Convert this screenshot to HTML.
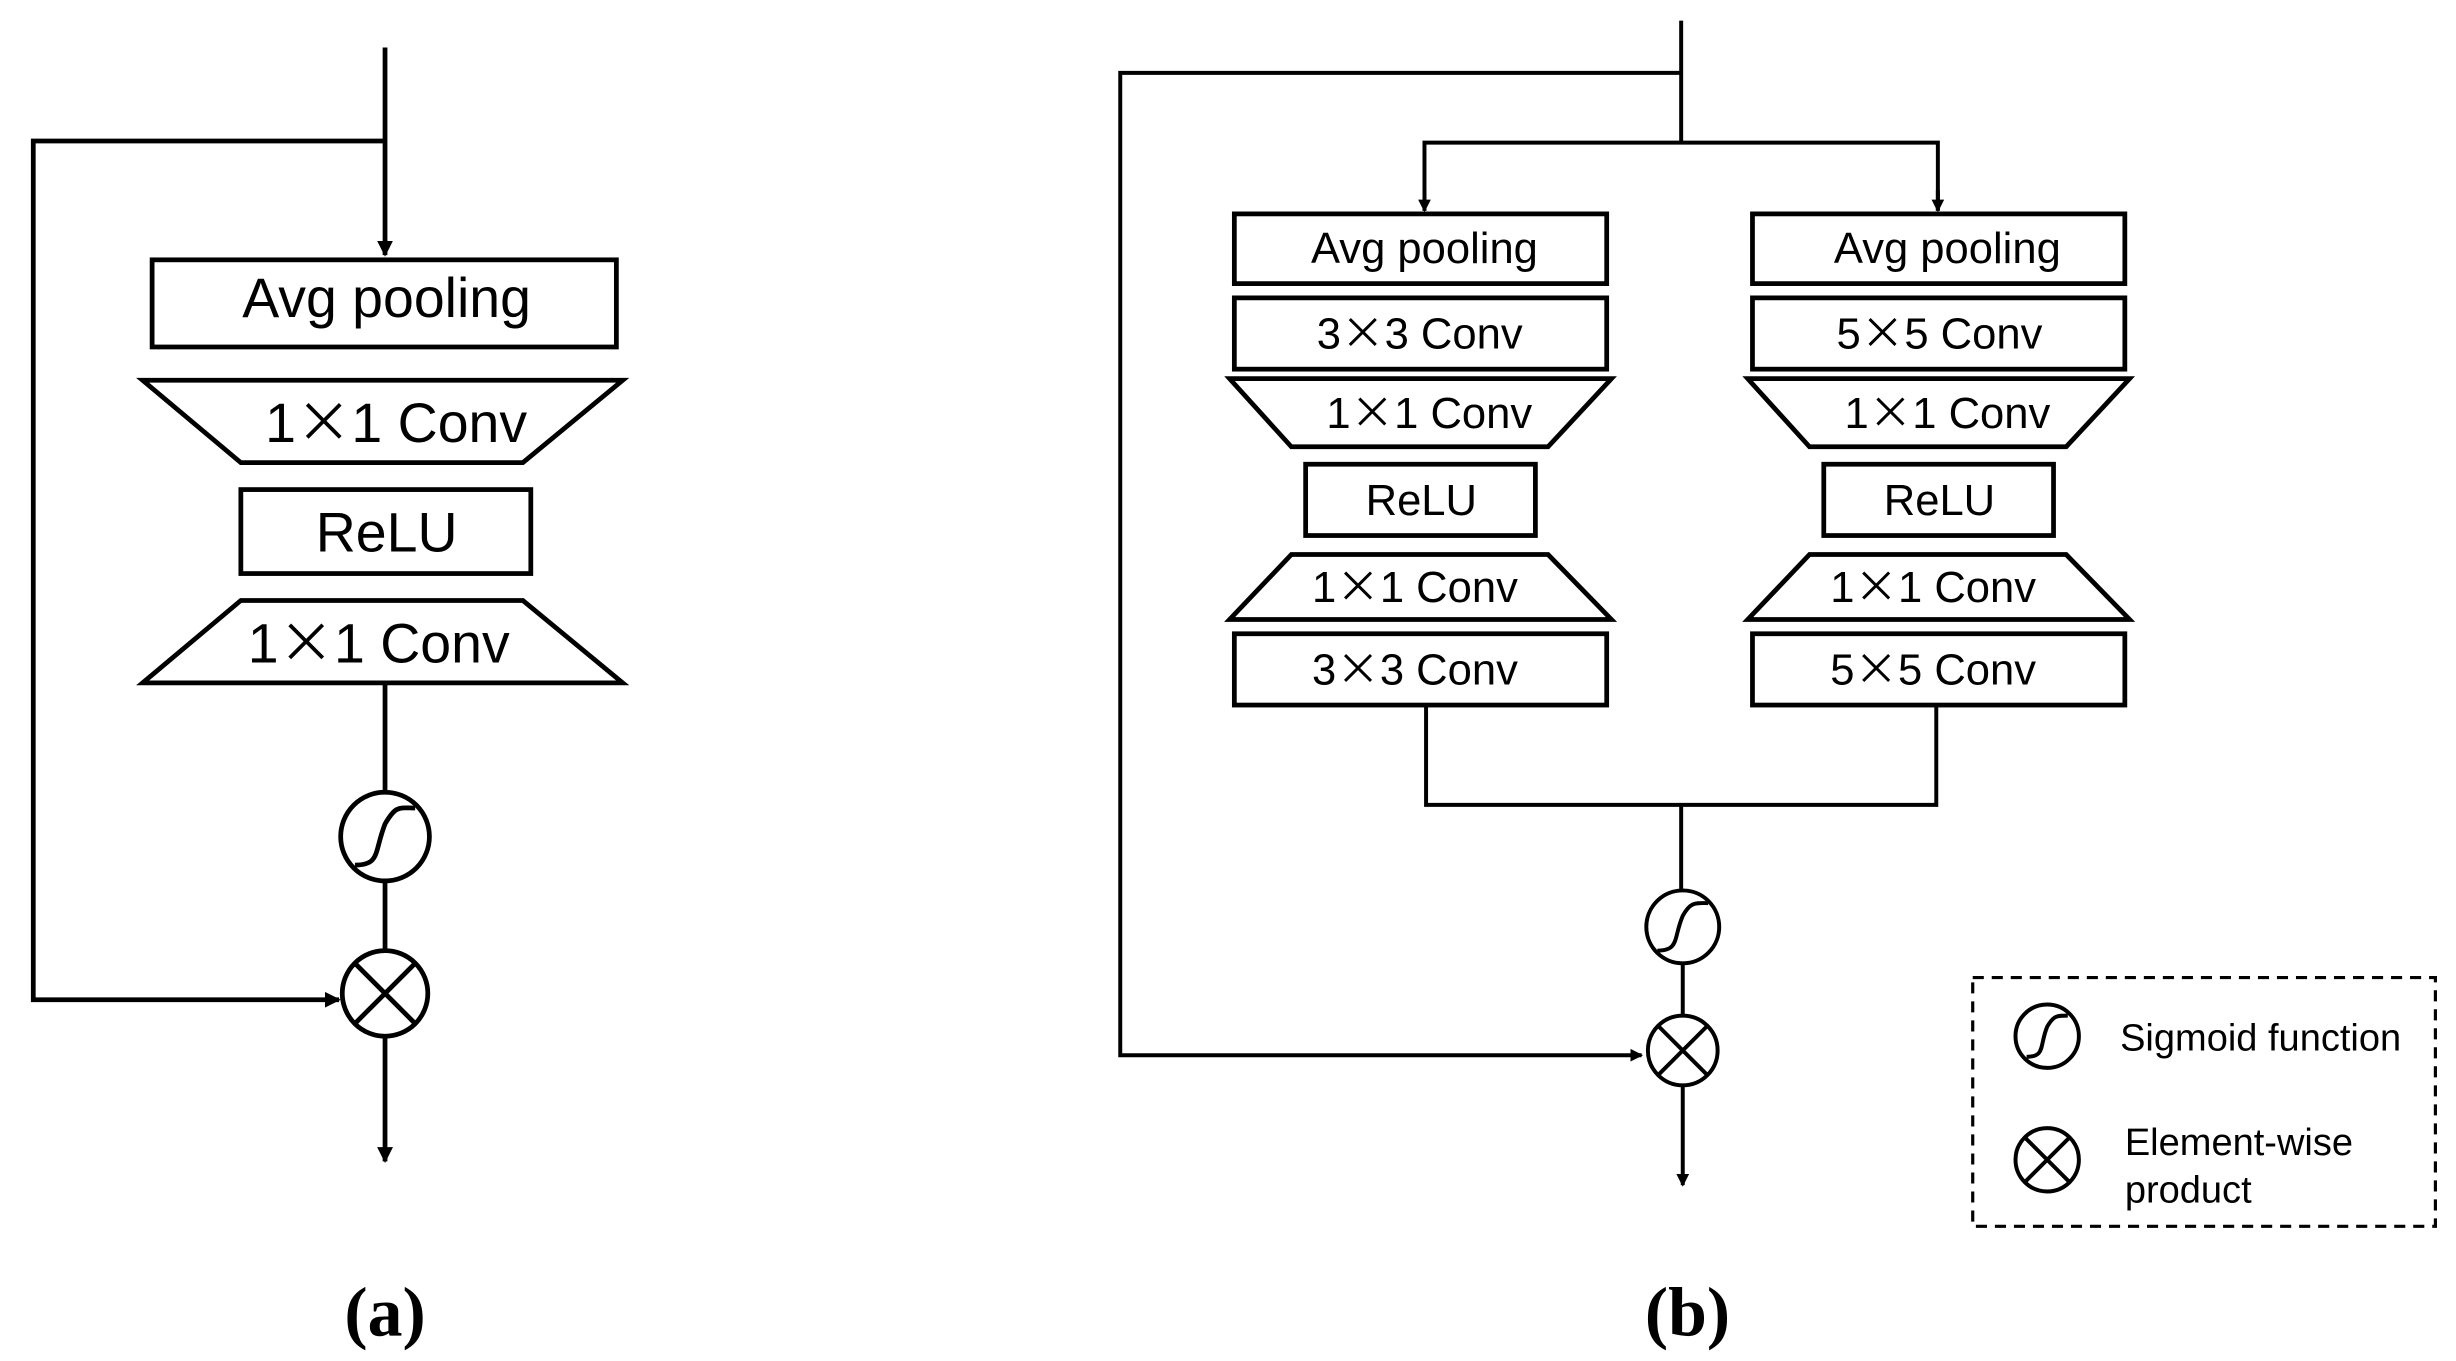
<!DOCTYPE html>
<html><head><meta charset="utf-8"><style>
html,body{margin:0;padding:0;background:#fff;}
svg{display:block;}
text{font-family:"Liberation Sans",sans-serif;fill:#000;}
.x{font-family:"Noto Sans CJK SC",sans-serif;}
</style></head><body>
<svg width="2456" height="1361" viewBox="0 0 1550 859" preserveAspectRatio="none" xmlns="http://www.w3.org/2000/svg">
<defs>
<marker id="ah" markerWidth="8" markerHeight="8" refX="7" refY="4" orient="auto" markerUnits="userSpaceOnUse">
<path d="M0,0 L8,4 L0,8 z" fill="#000"/></marker>
<marker id="ah2" markerWidth="10" markerHeight="10" refX="9" refY="5" orient="auto" markerUnits="userSpaceOnUse">
<path d="M0,0 L10,5 L0,10 z" fill="#000"/></marker>
</defs>
<rect width="1550" height="859" fill="#fff"/>
<!-- Panel (a) -->
<g stroke="#000" stroke-width="3" fill="none">
<line x1="243" y1="30" x2="243" y2="161" marker-end="url(#ah2)"/>
<polyline points="243,89 21,89 21,631 214,631" marker-end="url(#ah2)"/>
<rect x="96" y="164" width="293" height="55" fill="#fff"/>
<polygon points="90,240 393,240 330,292 152,292" fill="#fff"/>
<rect x="152" y="309" width="183" height="53" fill="#fff"/>
<polygon points="152,379 330,379 393,431 90,431" fill="#fff"/>
<line x1="243" y1="431" x2="243" y2="500"/>
<circle cx="243" cy="528" r="28"/>
<path d="M224,546 C240,546 236,538 243,520 C250,508 252,510 262,510"/>
<line x1="243" y1="556" x2="243" y2="600"/>
<circle cx="243" cy="627" r="27"/>
<line x1="224" y1="608" x2="262" y2="646"/>
<line x1="262" y1="608" x2="224" y2="646"/>
<line x1="243" y1="654" x2="243" y2="733" marker-end="url(#ah2)"/>
</g>
<g font-size="35" text-anchor="middle">
<text x="244" y="200">Avg pooling</text>
<text x="250" y="279">1<tspan class="x">×</tspan>1 Conv</text>
<text x="244" y="348">ReLU</text>
<text x="239" y="418">1<tspan class="x">×</tspan>1 Conv</text>
</g>
<text x="243" y="843" font-size="44" font-weight="bold" text-anchor="middle" style="font-family:'Liberation Serif',serif">(a)</text>

<!-- Panel (b) -->
<g stroke="#000" stroke-width="2.5" fill="none">
<line x1="1061" y1="13" x2="1061" y2="90"/>
<polyline points="1061,46 707,46 707,666 1036,666" marker-end="url(#ah)"/>
<polyline points="899,133 899,90 1223,90 1223,133"/>
<line x1="899" y1="120" x2="899" y2="133" marker-end="url(#ah)"/>
<line x1="1223" y1="120" x2="1223" y2="133" marker-end="url(#ah)"/>
<g stroke-width="3">
<rect x="779" y="135" width="235" height="44" fill="#fff"/>
<rect x="779" y="188" width="235" height="45" fill="#fff"/>
<polygon points="776,239 1017,239 977,282 815,282" fill="#fff"/>
<rect x="824" y="293" width="145" height="45" fill="#fff"/>
<polygon points="815,350 977,350 1017,391 776,391" fill="#fff"/>
<rect x="779" y="400" width="235" height="45" fill="#fff"/>
<rect x="1106" y="135" width="235" height="44" fill="#fff"/>
<rect x="1106" y="188" width="235" height="45" fill="#fff"/>
<polygon points="1103,239 1344,239 1304,282 1142,282" fill="#fff"/>
<rect x="1151" y="293" width="145" height="45" fill="#fff"/>
<polygon points="1142,350 1304,350 1344,391 1103,391" fill="#fff"/>
<rect x="1106" y="400" width="235" height="45" fill="#fff"/>
</g>
<polyline points="900,445 900,508 1222,508 1222,445"/>
<line x1="1061" y1="508" x2="1061" y2="562"/>
<circle cx="1062" cy="585" r="23"/>
<path d="M1046,600 C1060,600 1056,592 1062,578 C1067,569 1070,570 1078,570"/>
<line x1="1062" y1="608" x2="1062" y2="640"/>
<circle cx="1062" cy="663" r="22"/>
<line x1="1046" y1="647" x2="1078" y2="679"/>
<line x1="1078" y1="647" x2="1046" y2="679"/>
<line x1="1062" y1="685" x2="1062" y2="748" marker-end="url(#ah)"/>
<rect x="1245" y="617" width="292" height="157" stroke-dasharray="7,5" stroke-width="2"/>
<circle cx="1292" cy="654" r="20"/>
<path d="M1279,667 C1291,667 1287,660 1292,648 C1296,641 1298,641 1305,641"/>
<circle cx="1292" cy="732" r="20"/>
<line x1="1278" y1="718" x2="1306" y2="746"/>
<line x1="1306" y1="718" x2="1278" y2="746"/>
</g>
<g font-size="27.5" text-anchor="middle">
<text x="899" y="166">Avg pooling</text>
<text x="896" y="220">3<tspan class="x">×</tspan>3 Conv</text>
<text x="902" y="270">1<tspan class="x">×</tspan>1 Conv</text>
<text x="897" y="325">ReLU</text>
<text x="893" y="380">1<tspan class="x">×</tspan>1 Conv</text>
<text x="893" y="432">3<tspan class="x">×</tspan>3 Conv</text>
<text x="1229" y="166">Avg pooling</text>
<text x="1224" y="220">5<tspan class="x">×</tspan>5 Conv</text>
<text x="1229" y="270">1<tspan class="x">×</tspan>1 Conv</text>
<text x="1224" y="325">ReLU</text>
<text x="1220" y="380">1<tspan class="x">×</tspan>1 Conv</text>
<text x="1220" y="432">5<tspan class="x">×</tspan>5 Conv</text>
</g>
<g font-size="24">
<text x="1338" y="663">Sigmoid function</text>
<text x="1341" y="729">Element-wise</text>
<text x="1341" y="759">product</text>
</g>
<text x="1065" y="843" font-size="44" font-weight="bold" text-anchor="middle" style="font-family:'Liberation Serif',serif">(b)</text>
</svg>
</body></html>
